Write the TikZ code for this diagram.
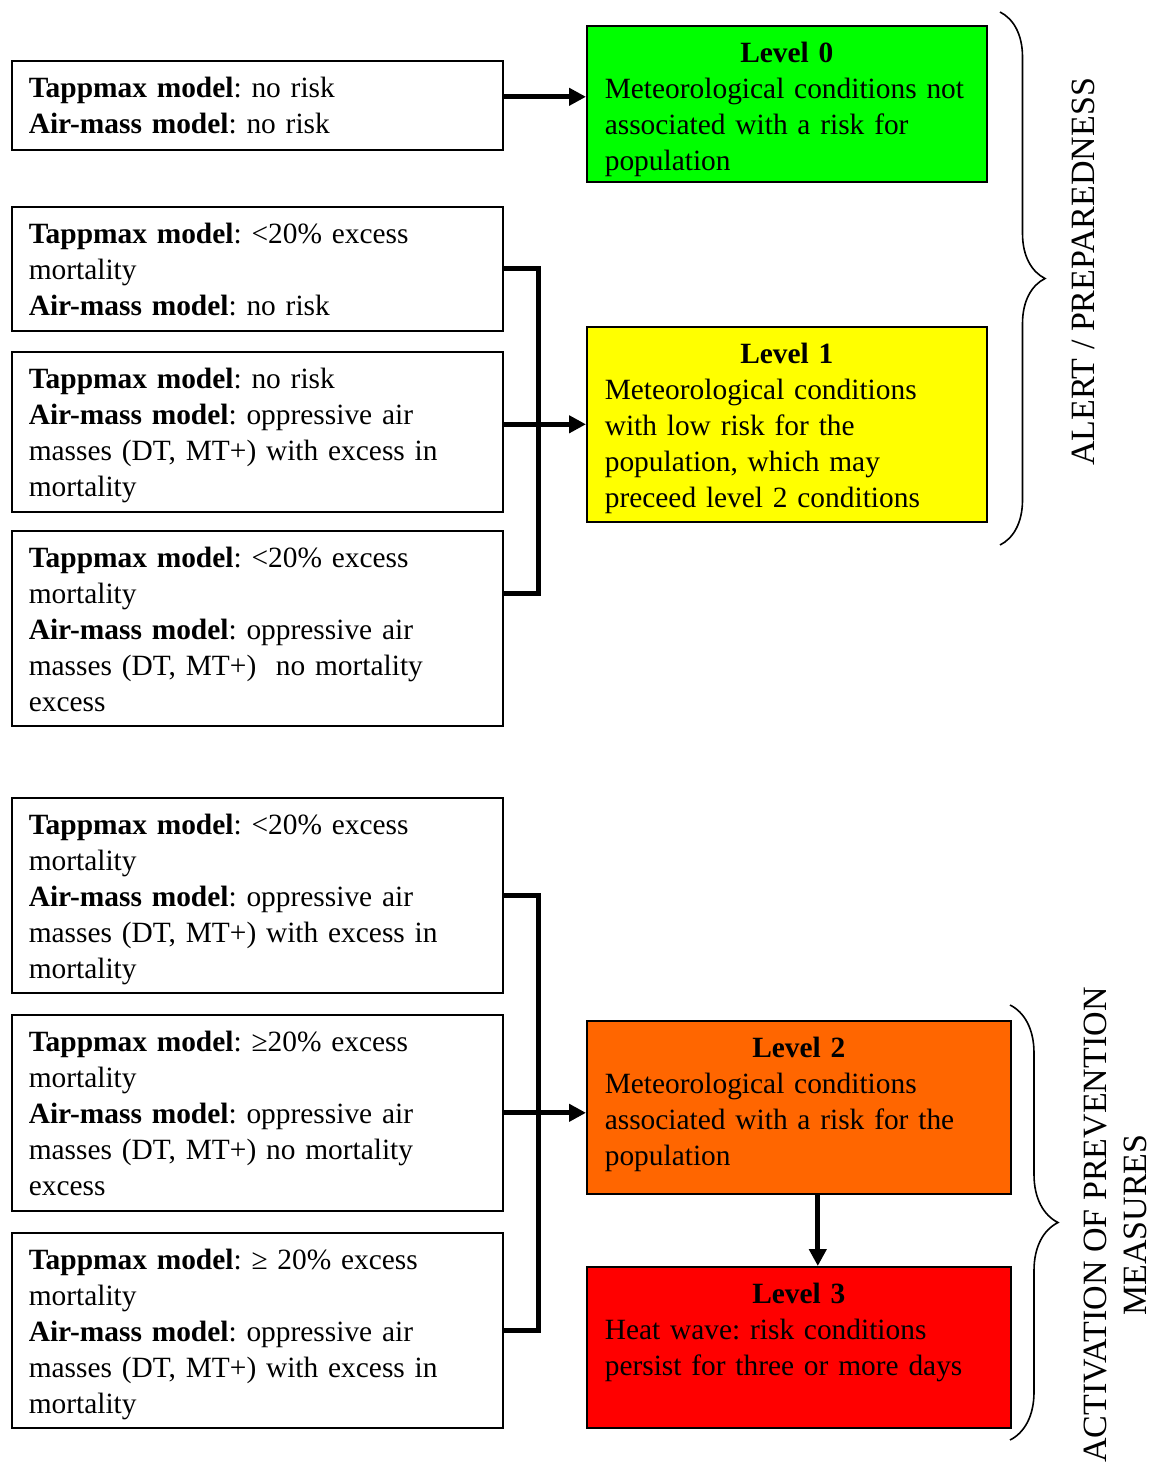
\documentclass[tikz,border=0pt]{standalone}
\usepackage{fontspec}
\setmainfont{Liberation Serif}
\usepackage{tikz}
\usetikzlibrary{arrows.meta,decorations.pathreplacing}
\definecolor{lvlzero}{RGB}{0,255,0}
\definecolor{lvlone}{RGB}{255,255,0}
\definecolor{lvltwo}{RGB}{255,102,0}
\definecolor{lvlthree}{RGB}{255,0,0}
\frenchspacing

\begin{document}
\begin{tikzpicture}[x=0.5pt,y=-0.5pt,
  cond/.style={draw,line width=0.8pt,anchor=north west,align=left,text width=228.5pt,
    inner xsep=8.5pt,inner ysep=3pt,text height=15.5pt,text depth=#1,font=\fontsize{14.7}{18}\selectfont},
  level/.style n args={3}{draw,line width=0.8pt,fill=#3,anchor=north west,align=left,text width=#1,
    inner xsep=9pt,inner ysep=3pt,text height=15.5pt,text depth=#2,font=\fontsize{14.7}{18}\selectfont},
  arr/.style={line width=2.5pt,-{Triangle[length=8.5pt,width=8.5pt]}},
  bus/.style={line width=2.5pt,line join=miter},
  brc/.style={decorate,decoration={brace,amplitude=#1},line width=0.8pt},
  side/.style={rotate=90,align=center,font=\fontsize{17}{20}\selectfont}]
\useasboundingbox (0,0) rectangle (1152,1467);

\node[cond=23pt] (lA) at (11,60) {\textbf{Tappmax model}: no risk\\\textbf{Air-mass model}: no risk};
\node[cond=40.5pt] (lB) at (11,206) {\textbf{Tappmax model}: <20\% excess\\mortality\\\textbf{Air-mass model}: no risk};
\node[cond=58.5pt] (lC) at (11,351) {\textbf{Tappmax model}: no risk\\\textbf{Air-mass model}: oppressive air\\masses (DT, MT+) with excess in\\mortality};
\node[cond=76pt] (lD) at (11,530) {\textbf{Tappmax model}: <20\% excess\\mortality\\\textbf{Air-mass model}: oppressive air\\masses (DT, MT+)~ no mortality\\excess};
\node[cond=76pt] (lE) at (11,797) {\textbf{Tappmax model}: <20\% excess\\mortality\\\textbf{Air-mass model}: oppressive air\\masses (DT, MT+) with excess in\\mortality};
\node[cond=76.5pt] (lF) at (11,1014) {\textbf{Tappmax model}: ≥20\% excess\\mortality\\\textbf{Air-mass model}: oppressive air\\masses (DT, MT+) no mortality\\excess};
\node[cond=76pt] (lG) at (11,1232) {\textbf{Tappmax model}: ≥ 20\% excess\\mortality\\\textbf{Air-mass model}: oppressive air\\masses (DT, MT+) with excess in\\mortality};

\node[level={182pt}{56.5pt}{lvlzero}] (lv0) at (586,25) {{\centering\textbf{Level 0}\par}Meteorological conditions not\\associated with a risk for\\population};
\node[level={182pt}{76pt}{lvlone}] (lv1) at (586,326) {{\centering\textbf{Level 1}\par}Meteorological conditions\\with low risk for the\\population, which may\\preceed level 2 conditions};
\node[level={194pt}{65pt}{lvltwo}] (lv2) at (586,1020) {{\centering\textbf{Level 2}\par}Meteorological conditions\\associated with a risk for the\\population};
\node[level={194pt}{59pt}{lvlthree}] (lv3) at (586,1266) {{\centering\textbf{Level 3}\par}Heat wave: risk conditions\\persist for three or more days};

\coordinate (j1) at (538,423);
\coordinate (j2) at (538,1112);
\draw[arr] ([yshift=4.25pt]lA.east) -- ([yshift=4.25pt]lA.east -| lv0.west);
\draw[bus] (lB.east) -| (j1) |- ([yshift=17.25pt]lD.east);
\draw[arr] (lC.east |- lv1.west) -- (lv1.west);
\draw[bus] (lE.east) -| (j2) |- (lG.east);
\draw[arr] (lF.east) -- (lF.east -| lv2.west);
\draw[arr] ([xshift=9.5pt]lv2.south) -- ([xshift=9.5pt]lv3.north);

\draw[brc=22.5pt] (1000,12) -- (1000,545);
\draw[brc=24pt] (1010,1005) -- (1010,1440);
\node[side] (alert) at (1083,272) {ALERT / PREPAREDNESS};
\node[side] (activ) at (1115,1225) {ACTIVATION OF PREVENTION\\MEASURES};
\end{tikzpicture}
\end{document}
